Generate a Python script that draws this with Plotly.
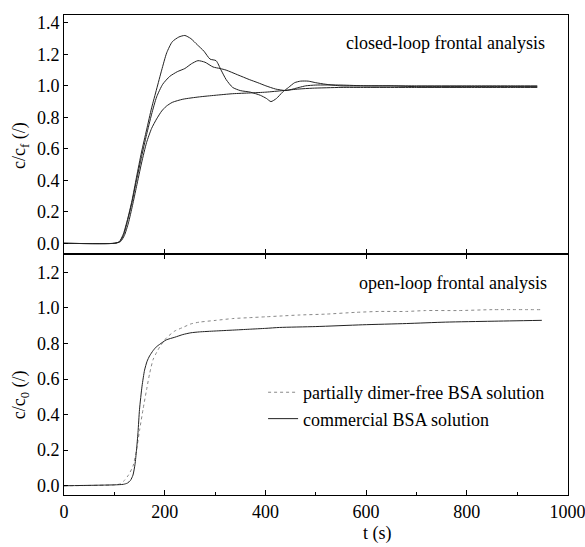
import plotly.graph_objects as go
from plotly.subplots import make_subplots

# ---- closed-loop frontal analysis (three runs) ----
t_run1 = [0, 100, 110, 118, 126, 135, 144, 154, 164, 174, 184, 194, 204, 215, 228, 240, 252, 265,
          278, 290, 302, 312, 322, 335, 350, 370, 390, 402, 411, 422, 434, 446, 458, 470, 485, 500,
          520, 550, 600, 650, 700, 750, 800, 850, 900, 940]
c_run1 = [0, 0, 0.01, 0.06, 0.15, 0.27, 0.42, 0.58, 0.72, 0.86, 0.98, 1.10, 1.21, 1.28, 1.31, 1.32,
          1.30, 1.26, 1.22, 1.17, 1.16, 1.10, 1.04, 0.99, 0.97, 0.96, 0.94, 0.92, 0.90, 0.92, 0.96,
          0.99, 1.02, 1.03, 1.03, 1.02, 1.01, 1.0, 1.0, 1.0, 0.995, 0.995, 0.995, 0.995, 0.995, 0.995]

t_run2 = [0, 100, 110, 118, 126, 135, 144, 154, 164, 174, 184, 196, 210, 225, 240, 253, 266, 280,
          296, 310, 322, 345, 368, 385, 401, 420, 441, 455, 467, 480, 500, 550, 600, 700, 800, 900, 940]
c_run2 = [0, 0, 0.01, 0.05, 0.14, 0.26, 0.40, 0.55, 0.69, 0.82, 0.93, 1.01, 1.06, 1.09, 1.11, 1.14,
          1.16, 1.15, 1.12, 1.11, 1.10, 1.07, 1.04, 1.02, 1.00, 0.98, 0.97, 0.98, 0.99, 1.0, 1.005,
          1.005, 1.0, 1.0, 1.0, 1.0, 1.0]

t_run3 = [0, 100, 112, 120, 128, 136, 144, 154, 164, 174, 184, 194, 203, 215, 236, 269, 300, 335,
          370, 401, 435, 467, 493, 550, 600, 700, 800, 900, 940]
c_run3 = [0, 0, 0.01, 0.05, 0.13, 0.24, 0.36, 0.51, 0.64, 0.73, 0.79, 0.84, 0.87, 0.895, 0.915,
          0.93, 0.94, 0.95, 0.955, 0.96, 0.97, 0.98, 0.985, 0.99, 0.99, 0.99, 0.99, 0.99, 0.99]

# ---- open-loop frontal analysis ----
t_dimer_free = [0, 100, 111, 120, 128, 137, 144, 150, 157, 164, 170, 177, 184, 190, 203, 220, 236,
                252, 269, 302, 335, 368, 401, 434, 467, 520, 580, 626, 680, 718, 784, 850, 949]
c_dimer_free = [0, 0.005, 0.01, 0.03, 0.06, 0.11, 0.2, 0.31, 0.43, 0.54, 0.63, 0.71, 0.75, 0.78,
                0.83, 0.87, 0.89, 0.91, 0.92, 0.93, 0.94, 0.945, 0.95, 0.955, 0.96, 0.965, 0.975,
                0.98, 0.98, 0.985, 0.985, 0.99, 0.99]

t_commercial = [0, 100, 118, 126, 132, 137, 141, 144, 147, 150, 155, 160, 165, 170, 177, 183, 190,
                203, 220, 236, 252, 269, 300, 335, 368, 401, 428, 500, 593, 680, 758, 850, 949]
c_commercial = [0, 0.005, 0.008, 0.015, 0.03, 0.06, 0.12, 0.2, 0.3, 0.43, 0.56, 0.65, 0.7, 0.73,
                0.76, 0.78, 0.795, 0.82, 0.835, 0.85, 0.86, 0.865, 0.87, 0.875, 0.88, 0.885, 0.89,
                0.895, 0.905, 0.912, 0.92, 0.925, 0.93]

x_ticks = [0, 200, 400, 600, 800, 1000]
y_ticks_top = [0.0, 0.2, 0.4, 0.6, 0.8, 1.0, 1.2, 1.4]
y_ticks_bottom = [0.0, 0.2, 0.4, 0.6, 0.8, 1.0, 1.2]

FONT = "Times New Roman, Liberation Serif, serif"
INK = "#222222"

fig = make_subplots(rows=2, cols=1, vertical_spacing=0, row_heights=[239, 241])

for t, c in [(t_run1, c_run1), (t_run2, c_run2), (t_run3, c_run3)]:
    fig.add_trace(go.Scatter(x=t, y=c, mode="lines", showlegend=False,
                             line=dict(color=INK, width=1, shape="spline", smoothing=0.6)),
                  row=1, col=1)

fig.add_trace(go.Scatter(x=t_dimer_free, y=c_dimer_free, mode="lines",
                         name="partially dimer-free BSA solution",
                         line=dict(color="#888888", width=1, dash="dot",
                                   shape="spline", smoothing=0.6)),
              row=2, col=1)
fig.add_trace(go.Scatter(x=t_commercial, y=c_commercial, mode="lines",
                         name="commercial BSA solution",
                         line=dict(color=INK, width=1, shape="spline", smoothing=0.6)),
              row=2, col=1)

# extra axis on top of the lower panel carrying its downward ticks
fig.add_trace(go.Scatter(x=[], y=[], xaxis="x3", yaxis="y2", showlegend=False,
                         hoverinfo="skip"))

axis_common = dict(showline=True, linecolor="black", linewidth=1, mirror=True,
                   showgrid=False, zeroline=False, ticks="inside", tickcolor="black",
                   automargin=False,
                   tickfont=dict(family=FONT, size=18, color="black"))

X_RANGE = [0, 1001]
fig.update_xaxes(range=X_RANGE, **axis_common)
fig.update_layout(
    xaxis=dict(tickvals=[200, 400, 600, 800], ticklen=5, showticklabels=False),
    xaxis2=dict(tickvals=x_ticks, ticklen=5, ticklabeloverflow="allow",
                minor=dict(ticks="inside", dtick=100, tick0=0, ticklen=3, tickcolor="black")),
    xaxis3=dict(overlaying="x2", anchor="y2", side="top", range=X_RANGE, automargin=False,
                tickvals=[200, 400, 600, 800], ticks="inside", ticklen=5, tickcolor="black",
                showticklabels=False, showline=False, showgrid=False, zeroline=False),
    yaxis=dict(range=[-0.068, 1.45], tickvals=y_ticks_top, tickformat=".1f", ticklen=4,
               **axis_common),
    yaxis2=dict(range=[-0.052, 1.303], tickvals=y_ticks_bottom, tickformat=".1f", ticklen=4,
                **axis_common),
)

annotations = [
    dict(text="closed-loop frontal analysis", x=0.958, y=0.9417, xanchor="right",
         yanchor="middle"),
    dict(text="open-loop frontal analysis", x=0.962, y=0.4417, xanchor="right",
         yanchor="middle"),
    dict(text="c/c<sub>f</sub> (/)", x=-0.0873, y=0.727, textangle=-90, xanchor="center",
         yanchor="middle"),
    dict(text="c/c<sub>0</sub> (/)", x=-0.0873, y=0.208, textangle=-90, xanchor="center",
         yanchor="middle"),
    dict(text="t (s)", x=0.623, y=-0.106, xanchor="center", yanchor="bottom"),
]
for a in annotations:
    a.update(xref="paper", yref="paper", showarrow=False,
             font=dict(family=FONT, size=18, color="black"))

fig.update_layout(
    width=585, height=547,
    margin=dict(l=64, r=17, t=15, b=52, autoexpand=False),
    paper_bgcolor="white", plot_bgcolor="white",
    font=dict(family=FONT, size=18, color="black"),
    annotations=annotations,
    legend=dict(x=0.395, y=0.252, xanchor="left", yanchor="top",
                bgcolor="rgba(0,0,0,0)", borderwidth=0,
                font=dict(family=FONT, size=18, color="black")),
)

fig.write_html("out.html")
